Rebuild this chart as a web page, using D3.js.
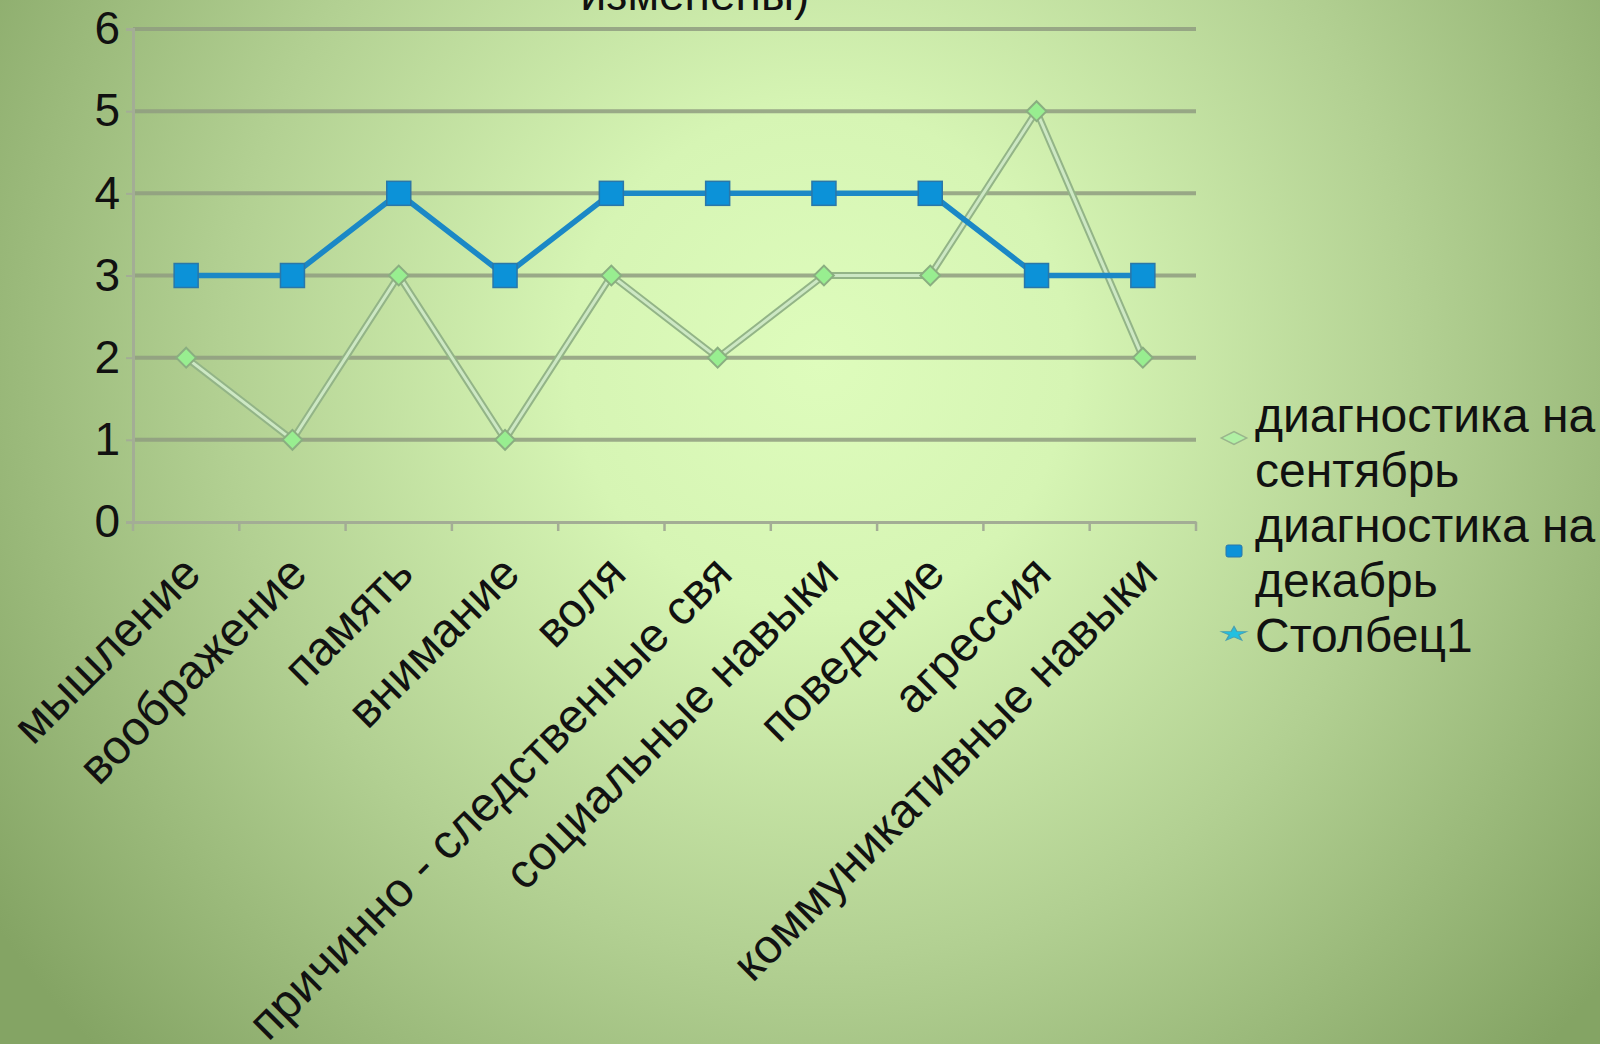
<!DOCTYPE html>
<html>
<head>
<meta charset="utf-8">
<script src="https://cdn.jsdelivr.net/npm/d3@7"></script>
<style>
  html, body { margin: 0; padding: 0; overflow: hidden; }
  svg { display: block; font-family: "Liberation Sans", Arial, sans-serif; }
</style>
</head>
<body>
<div id="chart"></div>
<script>
// categories and series values
var categories = ["мышление", "воображение", "память", "внимание", "воля",
  "причинно - следственные свя", "социальные навыки", "поведение", "агрессия",
  "коммуникативные навыки"];
var september = [2, 1, 3, 1, 3, 2, 3, 3, 5, 2];
var december = [3, 3, 4, 3, 4, 4, 4, 4, 3, 3];
var yTicks = [0, 1, 2, 3, 4, 5, 6];
var legendLines = [
  ["диагностика на", "сентябрь"],
  ["диагностика на", "декабрь"],
  ["Столбец1"]
];
var titleTail = "изменены)";

var svgWidth = 1600;
var svgHeight = 1044;
var plot = { left: 133, right: 1196, top: 29, bottom: 522 };

var svg = d3.select("#chart")
  .append("svg")
  .attr("width", svgWidth)
  .attr("height", svgHeight);

// background gradient, light in the middle, darker green at the edges
var defs = svg.append("defs");
var grad = defs.append("radialGradient")
  .attr("id", "bg")
  .attr("gradientUnits", "userSpaceOnUse")
  .attr("cx", 820).attr("cy", 360).attr("r", 1000);
grad.append("stop").attr("offset", "0").attr("stop-color", "#defcbc");
grad.append("stop").attr("offset", "0.25").attr("stop-color", "#d6f5b4");
grad.append("stop").attr("offset", "0.6").attr("stop-color", "#b2d092");
grad.append("stop").attr("offset", "1").attr("stop-color", "#84a464");

svg.append("rect")
  .attr("width", svgWidth)
  .attr("height", svgHeight)
  .attr("fill", "url(#bg)");

// title, cut off at the very top just like the slide
svg.append("text")
  .attr("x", 695)
  .attr("y", 10)
  .attr("text-anchor", "middle")
  .attr("font-size", "46px")
  .attr("fill", "#111")
  .text(titleTail);

var x = d3.scaleBand()
  .domain(categories)
  .range([plot.left, plot.right]);

var y = d3.scaleLinear()
  .domain([0, 6])
  .range([plot.bottom, plot.top]);

var cx = function(d, i) { return x(categories[i]) + x.bandwidth() / 2; };

// gridlines
svg.append("g")
  .selectAll("line")
  .data(yTicks.slice(1))
  .enter()
  .append("line")
  .attr("x1", plot.left)
  .attr("x2", plot.right)
  .attr("y1", d => y(d))
  .attr("y2", d => y(d))
  .attr("stroke", "#8f9c80")
  .attr("stroke-opacity", 0.85)
  .attr("stroke-width", 4);

// y axis
var yAxis = d3.axisLeft(y).tickValues(yTicks).tickFormat(d3.format("d")).tickSize(7).tickPadding(6);
var gy = svg.append("g")
  .attr("transform", `translate(${plot.left}, 0)`)
  .call(yAxis);
gy.select(".domain").attr("stroke", "#a3ad95").attr("stroke-width", 3);
gy.selectAll(".tick line").attr("stroke", "#a3ad95").attr("stroke-width", 2);
gy.selectAll(".tick text")
  .attr("font-size", "46px")
  .attr("fill", "#111")
  .attr("font-family", "Liberation Sans, Arial, sans-serif");

// x axis with ticks between categories
var xAxis = d3.axisBottom(x).tickSize(0).tickFormat("");
var gx = svg.append("g")
  .attr("transform", `translate(0, ${plot.bottom})`)
  .call(xAxis);
gx.select(".domain").attr("stroke", "#a3ad95").attr("stroke-width", 3);

svg.append("g")
  .selectAll("line")
  .data(d3.range(categories.length + 1))
  .enter()
  .append("line")
  .attr("x1", i => plot.left + i * x.step())
  .attr("x2", i => plot.left + i * x.step())
  .attr("y1", plot.bottom)
  .attr("y2", plot.bottom + 9)
  .attr("stroke", "#a3ad95")
  .attr("stroke-width", 2.5);

// rotated category labels
svg.append("g")
  .selectAll("text")
  .data(categories)
  .enter()
  .append("text")
  .attr("transform", (d, i) => `translate(${cx(d, i) + 17}, ${plot.bottom + 54}) rotate(-45)`)
  .attr("text-anchor", "end")
  .attr("font-size", "48px")
  .attr("fill", "#111")
  .text(d => d);

// september series: pale line with grey-green edges and diamond markers
var line = d3.line()
  .x((d, i) => cx(d, i))
  .y(d => y(d));

svg.append("path")
  .datum(september)
  .attr("d", line)
  .attr("fill", "none")
  .attr("stroke", "#93b487")
  .attr("stroke-width", 7);
svg.append("path")
  .datum(september)
  .attr("d", line)
  .attr("fill", "none")
  .attr("stroke", "#cde8c4")
  .attr("stroke-width", 3);

svg.append("g")
  .selectAll("rect")
  .data(september)
  .enter()
  .append("rect")
  .attr("x", -7)
  .attr("y", -7)
  .attr("width", 14)
  .attr("height", 14)
  .attr("transform", (d, i) => `translate(${cx(d, i)}, ${y(d)}) rotate(45)`)
  .attr("fill", "#98ee90")
  .attr("stroke", "#8aae80")
  .attr("stroke-width", 2);

// december series: blue line with square markers
svg.append("path")
  .datum(december)
  .attr("d", line)
  .attr("fill", "none")
  .attr("stroke", "#1b88c6")
  .attr("stroke-width", 5.5);

svg.append("g")
  .selectAll("rect")
  .data(december)
  .enter()
  .append("rect")
  .attr("x", (d, i) => cx(d, i) - 12)
  .attr("y", d => y(d) - 12)
  .attr("width", 24)
  .attr("height", 24)
  .attr("fill", "#0c92d8")
  .attr("stroke", "#2a77a8")
  .attr("stroke-width", 1.5);

// legend
var legend = svg.append("g");
var lineStep = 55;
var legendTop = 432;

legend.append("rect")
  .attr("x", -6).attr("y", -6)
  .attr("width", 12).attr("height", 12)
  .attr("transform", `translate(1234, 438) scale(1.5, 0.75) rotate(45)`)
  .attr("fill", "#b0f0a4")
  .attr("stroke", "#9ab58c")
  .attr("stroke-width", 1.5);

legend.append("rect")
  .attr("x", 1226).attr("y", 545)
  .attr("width", 16).attr("height", 12)
  .attr("rx", 2)
  .attr("fill", "#0c92d8")
  .attr("stroke", "#2a77a8");

legend.append("path")
  .attr("d", d3.symbol().type(d3.symbolStar).size(100))
  .attr("transform", `translate(1234, 634) scale(1.4, 0.8)`)
  .attr("fill", "#22c0e0")
  .attr("stroke", "#4aa0b0")
  .attr("stroke-width", 1);

var row = 0;
legendLines.forEach(function(lines) {
  var t = legend.append("text")
    .attr("x", 1255)
    .attr("y", legendTop + row * lineStep)
    .attr("font-size", "48px")
    .attr("fill", "#111");
  lines.forEach(function(s, j) {
    t.append("tspan")
      .attr("x", 1255)
      .attr("dy", j === 0 ? 0 : lineStep)
      .text(s);
  });
  row += lines.length;
});
</script>
</body>
</html>
